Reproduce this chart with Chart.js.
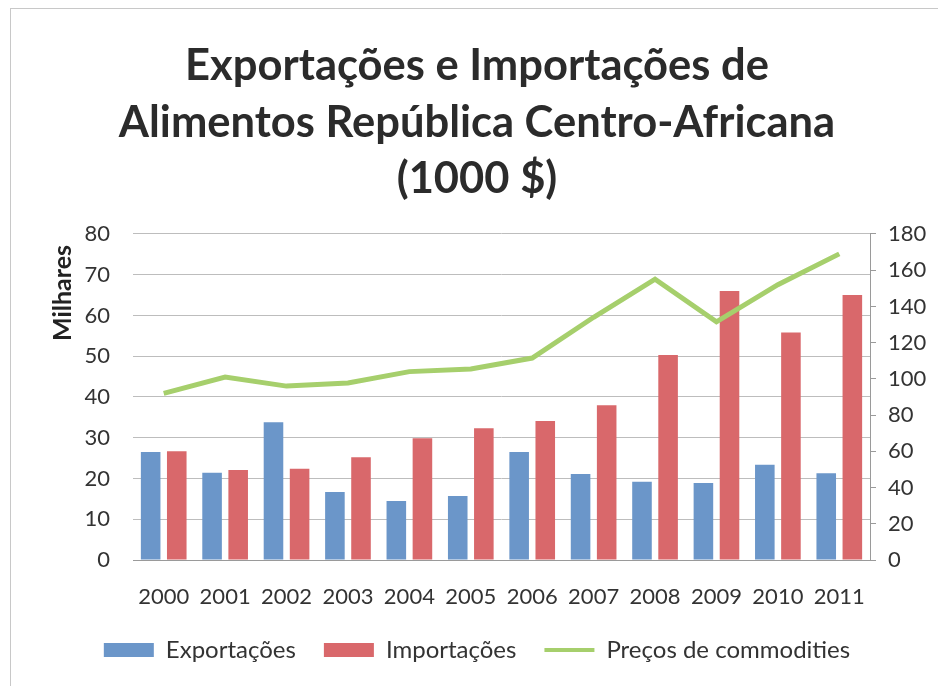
<!DOCTYPE html>
<html>
<head>
<meta charset="utf-8">
<script src="https://cdn.jsdelivr.net/npm/chart.js@4/dist/chart.umd.min.js"></script>
<style>
html,body{margin:0;padding:0;background:#fff;}
#wrap{position:relative;width:938px;height:686px;}
#frame{position:absolute;left:10px;top:8px;width:940px;height:700px;border-left:1px solid #c8c8c8;border-top:1px solid #c8c8c8;pointer-events:none;}
canvas{position:absolute;left:0;top:0;}
</style>
</head>
<body>
<div id="wrap">
<div id="frame"></div>
<canvas id="c" width="938" height="686"></canvas>
</div>
<script>
const categories = ["2000","2001","2002","2003","2004","2005","2006","2007","2008","2009","2010","2011"];
const exportacoes = [26.5, 21.4, 33.8, 16.7, 14.5, 15.7, 26.5, 21.1, 19.2, 18.9, 23.4, 21.3];
const importacoes = [26.7, 22.1, 22.4, 25.2, 29.9, 32.3, 34.1, 38.0, 50.3, 66.0, 55.8, 65.0];
const precos = [92, 101, 96, 97.7, 104, 105.5, 111.5, 134, 155, 131.5, 152, 169];
const titleLines = ["Exportações e Importações de", "Alimentos República Centro-Africana", "(1000 $)"];

const FONT = "Lato, 'Open Sans', sans-serif";

const axisTitlePlugin = {
  id: 'axisTitle',
  afterDraw(chart) {
    const ctx = chart.ctx;
    ctx.save();
    ctx.translate(63, 293);
    ctx.rotate(-Math.PI / 2);
    ctx.font = "bold 25px " + FONT;
    ctx.fillStyle = "#222";
    ctx.textAlign = "center";
    ctx.textBaseline = "middle";
    ctx.fillText("Milhares", 0, 0);
    ctx.restore();
  }
};

new Chart(document.getElementById('c'), {
  data: {
    labels: categories,
    datasets: [
      {type: 'bar', label: 'Exportações', data: exportacoes, backgroundColor: '#6b96c9', yAxisID: 'y', order: 2,
       categoryPercentage: 0.85, barPercentage: 0.75},
      {type: 'bar', label: 'Importações', data: importacoes, backgroundColor: '#d9686b', yAxisID: 'y', order: 2,
       categoryPercentage: 0.85, barPercentage: 0.75},
      {type: 'line', label: 'Preços de commodities', data: precos, borderColor: '#a6cf6c', backgroundColor: '#a6cf6c',
       borderWidth: 5, pointRadius: 0, tension: 0, yAxisID: 'y1', order: 1}
    ]
  },
  options: {
    responsive: false,
    animation: false,
    layout: {padding: {left: 20, right: 4, top: 37, bottom: 14}},
    plugins: {
      title: {
        display: true,
        text: titleLines,
        font: {family: FONT, size: 43.5, weight: 'bold', lineHeight: 1.31},
        color: '#2b2b2b',
        padding: {top: 0, bottom: 26}
      },
      legend: {
        position: 'bottom',
        labels: {
          font: {family: FONT, size: 24},
          color: '#333',
          usePointStyle: true,
          pointStyleWidth: 50,
          boxHeight: 14,
          padding: 28,
          sort: (a, b) => a.datasetIndex - b.datasetIndex,
          generateLabels(chart) {
            const items = Chart.defaults.plugins.legend.labels.generateLabels(chart);
            return items.map((it) => {
              if (it.datasetIndex === 2) {
                it.pointStyle = 'line';
                it.strokeStyle = '#a6cf6c';
                it.lineWidth = 4;
              } else {
                it.pointStyle = 'rect';
                it.lineWidth = 0;
              }
              return it;
            });
          }
        }
      },
      tooltip: {enabled: false}
    },
    scales: {
      x: {
        grid: {display: false},
        border: {display: true, color: '#9a9a9a', width: 1},
        ticks: {font: {family: FONT, size: 22, lineHeight: 1.0}, color: '#333', padding: 18, maxRotation: 0},
        afterFit(scale) { scale.height = 50; }
      },
      y: {
        position: 'left',
        min: 0, max: 80,
        ticks: {stepSize: 10, font: {family: FONT, size: 22}, color: '#333', padding: 23},
        grid: {color: '#bdbdbd', lineWidth: 1, drawTicks: false},
        border: {display: false},
        afterFit(scale) { scale.width = 113; }
      },
      y1: {
        position: 'right',
        min: 0, max: 180,
        ticks: {stepSize: 20, font: {family: FONT, size: 22}, color: '#333', padding: 12},
        grid: {drawOnChartArea: false, drawTicks: true, tickLength: 6, color: '#9a9a9a'},
        border: {display: true, color: '#9a9a9a'},
        afterFit(scale) { scale.width = 64; }
      }
    }
  },
  plugins: [axisTitlePlugin]
});
</script>
</body>
</html>
